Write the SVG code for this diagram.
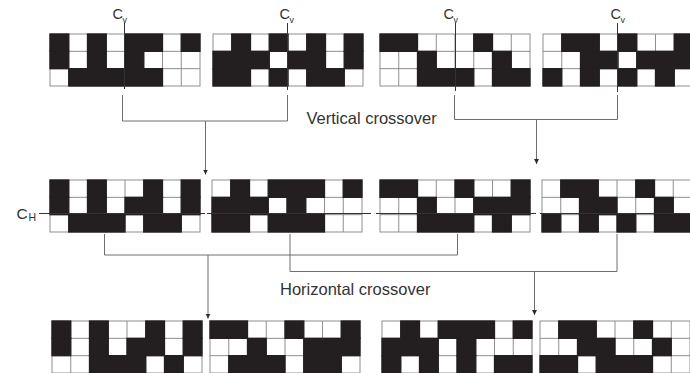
<svg xmlns="http://www.w3.org/2000/svg" xmlns:xlink="http://www.w3.org/1999/xlink" width="690" height="373" viewBox="0 0 690 373">
<style>
.bg{fill:#ffffff}
.gl{fill:none;stroke:#8e8e8e;stroke-width:1}
.b{fill:#231f20;stroke:#231f20;stroke-width:1.3}
.con{fill:none;stroke:#6e6e6e;stroke-width:1}
.cut{fill:none;stroke:#333333;stroke-width:1}
.lab{font-family:"Liberation Sans",Arial,sans-serif;fill:#333333}
.cap{font-size:16.5px}
.cv{font-size:14.5px}
.sub{font-size:9px}
</style>
<defs>
<g id="grid">
<rect class="bg" x="0" y="0" width="150" height="52"/>
<path class="gl" d="M0 17.33H150M0 34.67H150M18.75 0V52M37.5 0V52M56.25 0V52M75 0V52M93.75 0V52M112.5 0V52M131.25 0V52"/>
<rect class="gl" x="0" y="0" width="150" height="52"/>
</g>
<marker id="ah" markerUnits="userSpaceOnUse" markerWidth="6" markerHeight="6" refX="5" refY="2.5" orient="auto">
<path d="M0 0L5 2.5L0 5z" fill="#2a2a2a"/>
</marker>
</defs>
<rect x="0" y="0" width="690" height="373" fill="#ffffff"/>

<!-- Top row -->
<g id="g1" transform="translate(50,34)">
<use xlink:href="#grid"/>
<rect class="b" x="0" y="0" width="18.75" height="17.33"/>
<rect class="b" x="37.5" y="0" width="18.75" height="17.33"/>
<rect class="b" x="75" y="0" width="37.5" height="17.33"/>
<rect class="b" x="131.25" y="0" width="18.75" height="17.33"/>
<rect class="b" x="0" y="17.33" width="18.75" height="17.34"/>
<rect class="b" x="37.5" y="17.33" width="18.75" height="17.34"/>
<rect class="b" x="75" y="17.33" width="18.75" height="17.34"/>
<rect class="b" x="18.75" y="34.67" width="93.75" height="17.33"/>
</g>
<g id="g2" transform="translate(213,34)">
<use xlink:href="#grid"/>
<rect class="b" x="18.75" y="0" width="18.75" height="17.33"/>
<rect class="b" x="56.25" y="0" width="18.75" height="17.33"/>
<rect class="b" x="93.75" y="0" width="18.75" height="17.33"/>
<rect class="b" x="131.25" y="0" width="18.75" height="17.33"/>
<rect class="b" x="0" y="17.33" width="56.25" height="17.34"/>
<rect class="b" x="75" y="17.33" width="37.5" height="17.34"/>
<rect class="b" x="131.25" y="17.33" width="18.75" height="17.34"/>
<rect class="b" x="0" y="34.67" width="37.5" height="17.33"/>
<rect class="b" x="56.25" y="34.67" width="18.75" height="17.33"/>
<rect class="b" x="93.75" y="34.67" width="37.5" height="17.33"/>
</g>
<g id="g3" transform="translate(380,34)">
<use xlink:href="#grid"/>
<rect class="b" x="0" y="0" width="37.5" height="17.33"/>
<rect class="b" x="93.75" y="0" width="18.75" height="17.33"/>
<rect class="b" x="37.5" y="17.33" width="18.75" height="17.34"/>
<rect class="b" x="112.5" y="17.33" width="18.75" height="17.34"/>
<rect class="b" x="37.5" y="34.67" width="56.25" height="17.33"/>
<rect class="b" x="112.5" y="34.67" width="37.5" height="17.33"/>
</g>
<g id="g4" transform="translate(543,34)">
<use xlink:href="#grid"/>
<rect class="b" x="18.75" y="0" width="37.5" height="17.33"/>
<rect class="b" x="75" y="0" width="18.75" height="17.33"/>
<rect class="b" x="131.25" y="0" width="18.75" height="17.33"/>
<rect class="b" x="37.5" y="17.33" width="37.5" height="17.34"/>
<rect class="b" x="93.75" y="17.33" width="56.25" height="17.34"/>
<rect class="b" x="0" y="34.67" width="18.75" height="17.33"/>
<rect class="b" x="37.5" y="34.67" width="18.75" height="17.33"/>
<rect class="b" x="75" y="34.67" width="18.75" height="17.33"/>
<rect class="b" x="112.5" y="34.67" width="18.75" height="17.33"/>
</g>

<!-- Middle row -->
<g id="g5" transform="translate(50,180)">
<use xlink:href="#grid"/>
<rect class="b" x="0" y="0" width="18.75" height="17.33"/>
<rect class="b" x="37.5" y="0" width="18.75" height="17.33"/>
<rect class="b" x="93.75" y="0" width="18.75" height="17.33"/>
<rect class="b" x="131.25" y="0" width="18.75" height="17.33"/>
<rect class="b" x="0" y="17.33" width="18.75" height="17.34"/>
<rect class="b" x="37.5" y="17.33" width="18.75" height="17.34"/>
<rect class="b" x="75" y="17.33" width="37.5" height="17.34"/>
<rect class="b" x="131.25" y="17.33" width="18.75" height="17.34"/>
<rect class="b" x="18.75" y="34.67" width="56.25" height="17.33"/>
<rect class="b" x="93.75" y="34.67" width="37.5" height="17.33"/>
</g>
<g id="g6" transform="translate(212,180)">
<use xlink:href="#grid"/>
<rect class="b" x="18.75" y="0" width="18.75" height="17.33"/>
<rect class="b" x="56.25" y="0" width="56.25" height="17.33"/>
<rect class="b" x="131.25" y="0" width="18.75" height="17.33"/>
<rect class="b" x="0" y="17.33" width="56.25" height="17.34"/>
<rect class="b" x="75" y="17.33" width="18.75" height="17.34"/>
<rect class="b" x="0" y="34.67" width="37.5" height="17.33"/>
<rect class="b" x="56.25" y="34.67" width="56.25" height="17.33"/>
</g>
<g id="g7" transform="translate(380,180)">
<use xlink:href="#grid"/>
<rect class="b" x="0" y="0" width="37.5" height="17.33"/>
<rect class="b" x="75" y="0" width="18.75" height="17.33"/>
<rect class="b" x="131.25" y="0" width="18.75" height="17.33"/>
<rect class="b" x="37.5" y="17.33" width="18.75" height="17.34"/>
<rect class="b" x="93.75" y="17.33" width="56.25" height="17.34"/>
<rect class="b" x="37.5" y="34.67" width="56.25" height="17.33"/>
<rect class="b" x="112.5" y="34.67" width="18.75" height="17.33"/>
</g>
<g id="g8" transform="translate(542,180)">
<use xlink:href="#grid"/>
<rect class="b" x="18.75" y="0" width="37.5" height="17.33"/>
<rect class="b" x="93.75" y="0" width="18.75" height="17.33"/>
<rect class="b" x="37.5" y="17.33" width="37.5" height="17.34"/>
<rect class="b" x="112.5" y="17.33" width="18.75" height="17.34"/>
<rect class="b" x="0" y="34.67" width="18.75" height="17.33"/>
<rect class="b" x="37.5" y="34.67" width="18.75" height="17.33"/>
<rect class="b" x="75" y="34.67" width="18.75" height="17.33"/>
<rect class="b" x="112.5" y="34.67" width="37.5" height="17.33"/>
</g>

<!-- Bottom row -->
<g id="g9" transform="translate(52,321)">
<use xlink:href="#grid"/>
<rect class="b" x="0" y="0" width="18.75" height="17.33"/>
<rect class="b" x="37.5" y="0" width="18.75" height="17.33"/>
<rect class="b" x="93.75" y="0" width="18.75" height="17.33"/>
<rect class="b" x="131.25" y="0" width="18.75" height="17.33"/>
<rect class="b" x="0" y="17.33" width="18.75" height="17.34"/>
<rect class="b" x="37.5" y="17.33" width="18.75" height="17.34"/>
<rect class="b" x="75" y="17.33" width="37.5" height="17.34"/>
<rect class="b" x="131.25" y="17.33" width="18.75" height="17.34"/>
<rect class="b" x="37.5" y="34.67" width="56.25" height="17.33"/>
<rect class="b" x="112.5" y="34.67" width="18.75" height="17.33"/>
</g>
<g id="g10" transform="translate(210,321)">
<use xlink:href="#grid"/>
<rect class="b" x="0" y="0" width="37.5" height="17.33"/>
<rect class="b" x="75" y="0" width="18.75" height="17.33"/>
<rect class="b" x="131.25" y="0" width="18.75" height="17.33"/>
<rect class="b" x="37.5" y="17.33" width="18.75" height="17.34"/>
<rect class="b" x="93.75" y="17.33" width="56.25" height="17.34"/>
<rect class="b" x="18.75" y="34.67" width="56.25" height="17.33"/>
<rect class="b" x="93.75" y="34.67" width="37.5" height="17.33"/>
</g>
<g id="g11" transform="translate(382,321)">
<use xlink:href="#grid"/>
<rect class="b" x="18.75" y="0" width="18.75" height="17.33"/>
<rect class="b" x="56.25" y="0" width="56.25" height="17.33"/>
<rect class="b" x="131.25" y="0" width="18.75" height="17.33"/>
<rect class="b" x="0" y="17.33" width="56.25" height="17.34"/>
<rect class="b" x="75" y="17.33" width="18.75" height="17.34"/>
<rect class="b" x="0" y="34.67" width="18.75" height="17.33"/>
<rect class="b" x="37.5" y="34.67" width="18.75" height="17.33"/>
<rect class="b" x="75" y="34.67" width="18.75" height="17.33"/>
<rect class="b" x="112.5" y="34.67" width="37.5" height="17.33"/>
</g>
<g id="g12" transform="translate(540,321)">
<use xlink:href="#grid"/>
<rect class="b" x="18.75" y="0" width="37.5" height="17.33"/>
<rect class="b" x="93.75" y="0" width="18.75" height="17.33"/>
<rect class="b" x="37.5" y="17.33" width="37.5" height="17.34"/>
<rect class="b" x="112.5" y="17.33" width="18.75" height="17.34"/>
<rect class="b" x="0" y="34.67" width="37.5" height="17.33"/>
<rect class="b" x="56.25" y="34.67" width="56.25" height="17.33"/>
</g>

<!-- Crossover points -->
<g id="cutpoints">
<path class="cut" d="M124.5 23V89M287.5 23V90M455.5 23V91M617.5 23V92"/>
<path class="cut" d="M39 213.5H205M207 213.5H371M376 213.5H536M540 213.5H690"/>
<text class="lab cv" x="112.5" y="19">C</text><text class="lab sub" x="122.5" y="23">v</text>
<text class="lab cv" x="279.5" y="19">C</text><text class="lab sub" x="289.5" y="23">v</text>
<text class="lab cv" x="443.5" y="19">C</text><text class="lab sub" x="453.5" y="23">v</text>
<text class="lab cv" x="610.5" y="19">C</text><text class="lab sub" x="620.5" y="23">v</text>
<text class="lab" x="16.5" y="219" font-size="15.5">C</text><text class="lab" x="28.5" y="221" font-size="10.5">H</text>
</g>

<!-- Connectors -->
<g id="connectors">
<path class="con" d="M122.5 95V121H287.5V95"/>
<path class="con" d="M205.5 121V174.5" marker-end="url(#ah)"/>
<path class="con" d="M454.5 95V119.5H617.5V95"/>
<path class="con" d="M536.5 119.5V164" marker-end="url(#ah)"/>
<path class="con" d="M104.5 234V255H457.5V234"/>
<path class="con" d="M208 255V318.5" marker-end="url(#ah)"/>
<path class="con" d="M290 234V271.5H617V234"/>
<path class="con" d="M534.5 271.5V315" marker-end="url(#ah)"/>
</g>

<text class="lab cap" x="306.5" y="123.5">Vertical crossover</text>
<text class="lab cap" x="280" y="295">Horizontal crossover</text>
</svg>
